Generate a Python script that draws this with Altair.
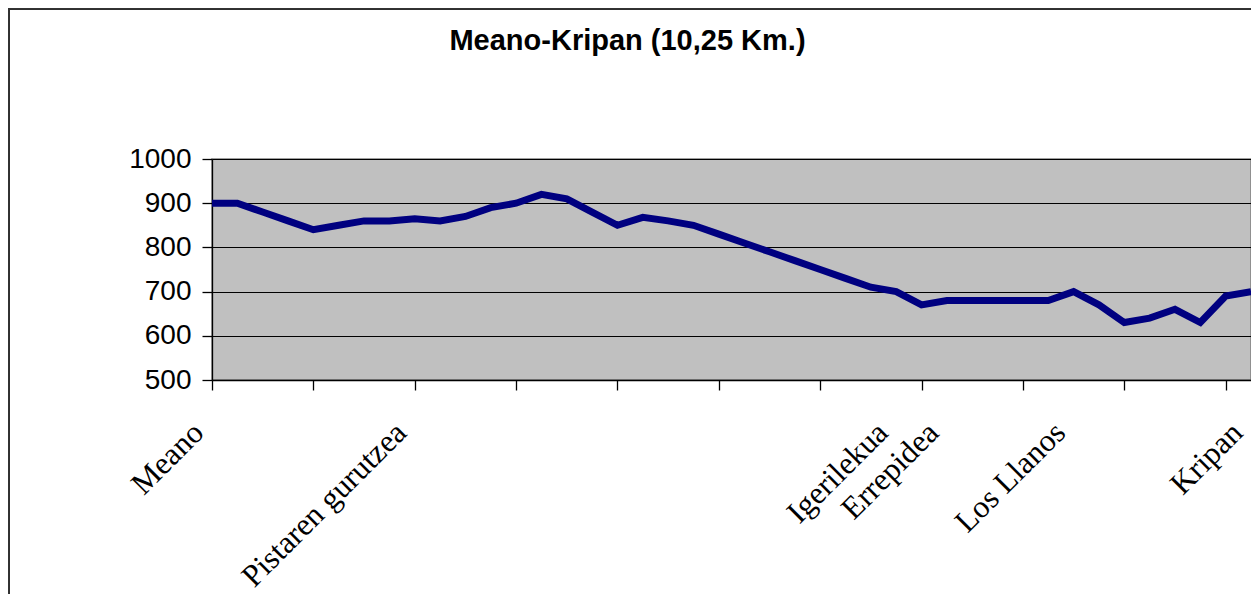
import altair as alt
import pandas as pd

# Elevation profile, one point every 0,25 km (42 points)
km_index = list(range(42))
elevation = [900, 900, 880, 860, 840, 850, 860, 860, 865, 860,
             870, 890, 900, 920, 910, 880, 850, 868, 860, 850,
             830, 810, 790, 770, 750, 730, 710, 700, 670, 680,
             680, 680, 680, 680, 700, 670, 630, 640, 660, 630,
             690, 700]
place_index = [0, 8, 27, 29, 34, 41]
place_names = ["Meano", "Pistaren gurutzea", "Igerilekua", "Errepidea",
               "Los Llanos", "Kripan"]
tick_index = list(range(0, 41, 4))
y_ticks = [500, 600, 700, 800, 900, 1000]

df = pd.DataFrame({"i": km_index, "elev": elevation})

W, H = 1039, 221
PL, PT, PR, PB = 204, 151, 0, 214

label_map = ", ".join(f"'{i}': '{n}'" for i, n in zip(place_index, place_names))
label_expr = f"({{{label_map}}})[''+datum.value] || ''"

xscale = alt.Scale(domain=[0, 41], nice=False, zero=False)
yscale = alt.Scale(domain=[500, 1000], nice=False, zero=False)

yaxis = alt.Axis(values=y_ticks, format="d", title=None, grid=True, gridColor="#000000",
                 gridWidth=1, gridOpacity=1, domainColor="#000000", domainWidth=1.3,
                 tickColor="#000000", tickSize=10, tickWidth=1.3,
                 labelFont="Liberation Sans", labelFontSize=28, labelColor="#000000",
                 labelPadding=11, labelBaseline="middle")

line = alt.Chart(df).mark_line(color="#000080", strokeWidth=7, clip=False).encode(
    x=alt.X("i:Q", scale=xscale,
            axis=alt.Axis(values=tick_index, orient="bottom", title=None, labels=False,
                          grid=False, domainColor="#000000", domainWidth=1.3,
                          tickColor="#000000", tickSize=10, tickWidth=1.3)),
    y=alt.Y("elev:Q", scale=yscale, axis=yaxis),
)

labels_layer = alt.Chart(df).mark_point(opacity=0).encode(
    x=alt.X("i:Q", scale=xscale,
            axis=alt.Axis(values=place_index, orient="bottom", title=None, ticks=False,
                          tickSize=0, domain=False, grid=False, labelExpr=label_expr,
                          labelAngle=-45, labelAlign="right", labelBaseline="alphabetic",
                          labelFont="Liberation Serif", labelFontSize=31.5,
                          labelColor="#000000", labelPadding=54, labelOffset=-7,
                          labelOverlap=False, labelFlush=False, labelBound=False,
                          labelLimit=600)),
    y=alt.value(0),
)

border_top = alt.Chart(df).mark_rule(color="#333333", strokeWidth=1.5).encode(
    x=alt.value(-PL), x2=alt.value(W + PR), y=alt.value(-PT + 0.5))
border_left = alt.Chart(df).mark_rule(color="#333333", strokeWidth=1.5).encode(
    x=alt.value(-PL + 0.5), y=alt.value(-PT), y2=alt.value(H + PB))

chart = alt.layer(line, labels_layer, border_top, border_left).resolve_axis(
    x="independent"
).properties(
    width=W, height=H,
    background="#FFFFFF",
    title=alt.TitleParams("Meano-Kripan (10,25 Km.)", font="Liberation Sans",
                          fontSize=29, fontWeight="bold", color="#000000",
                          anchor="middle", frame="group", dx=-104, offset=-72,
                          baseline="alphabetic"),
    padding={"left": PL, "top": PT, "right": PR, "bottom": PB},
    autosize=alt.AutoSizeParams(type="none"),
).configure_view(
    fill="#C0C0C0", stroke="#808080", strokeWidth=1.5
)

chart.save("out.html", embed_options={"renderer": "svg", "actions": False})
